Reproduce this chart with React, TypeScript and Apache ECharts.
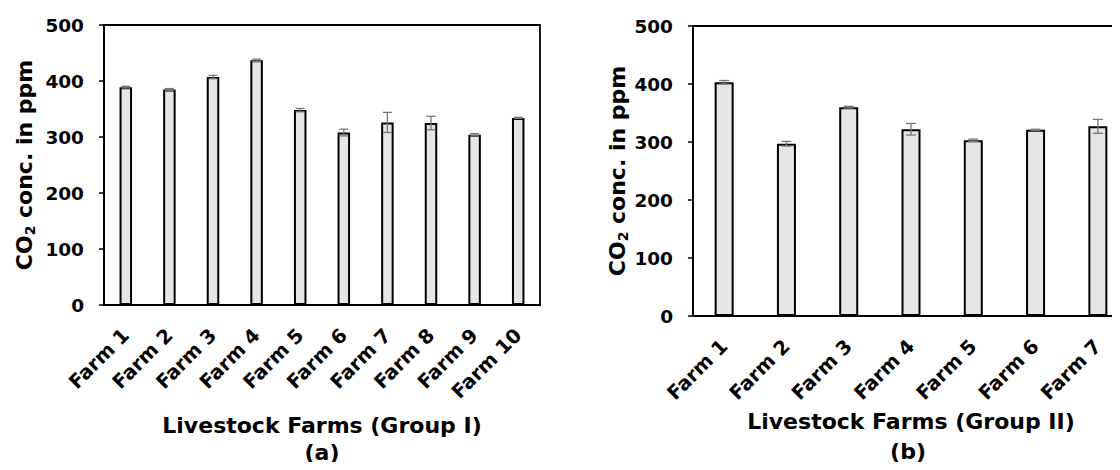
import React, { useEffect, useRef } from "react";
import * as echarts from "echarts";

const farmsA = ["Farm 1", "Farm 2", "Farm 3", "Farm 4", "Farm 5", "Farm 6", "Farm 7", "Farm 8", "Farm 9", "Farm 10"];
const meansA = [389, 385, 407, 437, 348, 308, 326, 325, 304, 334];
const errA = [1.5, 1.5, 3, 2, 3, 6, 18, 12, 2, 1];

const farmsB = ["Farm 1", "Farm 2", "Farm 3", "Farm 4", "Farm 5", "Farm 6", "Farm 7"];
const meansB = [403, 297, 360, 322, 303, 321, 327];
const errB = [3, 4, 1.5, 10, 2, 1, 12];

const yMin = 0;
const yMax = 500;
const yStep = 100;

const FONT = "'DejaVu Sans', 'Liberation Sans', Arial, sans-serif";

const gridA = { left: 104, top: 25, width: 436, height: 280 };
const gridB = { left: 693, top: 26, width: 436, height: 290 };

function errorRender(capWidth: number) {
  return (params: any, api: any) => {
    const x = api.value(0);
    const lo = api.value(1);
    const hi = api.value(2);
    const t = api.coord([x, hi]);
    const b = api.coord([x, lo]);
    const h = capWidth / 2;
    const style = { stroke: "#777", lineWidth: 1.3 };
    return {
      type: "group",
      children: [
        { type: "line", shape: { x1: t[0], y1: t[1], x2: b[0], y2: b[1] }, style },
        { type: "line", shape: { x1: t[0] - h, y1: t[1], x2: t[0] + h, y2: t[1] }, style },
        { type: "line", shape: { x1: b[0] - h, y1: b[1], x2: b[0] + h, y2: b[1] }, style },
      ],
    };
  };
}

const yName = "{m|CO}{s|2}{m| conc. in ppm}";
const yNameRich = {
  m: { fontSize: 22, fontWeight: "bold", fontFamily: FONT, color: "#000", lineHeight: 26 },
  s: { fontSize: 14, fontWeight: "bold", fontFamily: FONT, color: "#000", lineHeight: 14, verticalAlign: "bottom" },
};

function xAxisOpt(idx: number, cats: string[], name: string, gap: number) {
  return {
    type: "category",
    gridIndex: idx,
    data: cats,
    name,
    nameLocation: "middle",
    nameGap: gap,
    nameTextStyle: { fontSize: 22, fontWeight: "bold", fontFamily: FONT, color: "#000" },
    axisLine: { show: true, lineStyle: { color: "#000", width: 1.8 } },
    axisTick: { show: false },
    axisLabel: {
      interval: 0,
      rotate: 45,
      margin: 27,
      fontSize: 19.5,
      fontWeight: "bold",
      fontFamily: FONT,
      color: "#000",
    },
    splitLine: { show: false },
  };
}

function yAxisOpt(idx: number, gap: number) {
  return {
    type: "value",
    gridIndex: idx,
    min: yMin,
    max: yMax,
    interval: yStep,
    name: yName,
    nameLocation: "middle",
    nameGap: gap,
    nameTextStyle: { rich: yNameRich },
    axisLine: { show: true, lineStyle: { color: "#000", width: 1.8 } },
    axisTick: { show: true, inside: false, length: 5, lineStyle: { color: "#000", width: 1.5 } },
    axisLabel: { margin: 20, fontSize: 18.5, fontWeight: "bold", fontFamily: FONT, color: "#000" },
    splitLine: { show: false },
  };
}

export default function App() {
  const ref = useRef<HTMLDivElement>(null);
  useEffect(() => {
    if (!ref.current) return;
    const chart = echarts.init(ref.current, undefined, { renderer: "svg" });
    const option: any = {
      animation: false,
      backgroundColor: "#fff",
      grid: [
        { ...gridA, show: true, borderColor: "#000", borderWidth: 1.8 },
        { ...gridB, show: true, borderColor: "#000", borderWidth: 1.8 },
      ],
      xAxis: [
        xAxisOpt(0, farmsA, "Livestock Farms (Group I)", 109),
        xAxisOpt(1, farmsB, "Livestock Farms (Group II)", 90),
      ],
      yAxis: [yAxisOpt(0, 67), yAxisOpt(1, 62)],
      graphic: [
        {
          type: "text",
          x: gridA.left + gridA.width / 2,
          y: 452,
          style: { text: "(a)", align: "center", verticalAlign: "middle", font: `bold 22px ${FONT}`, fill: "#000" },
        },
        {
          type: "text",
          x: gridB.left + gridB.width / 2 - 3,
          y: 451,
          style: { text: "(b)", align: "center", verticalAlign: "middle", font: `bold 22px ${FONT}`, fill: "#000" },
        },
      ],
      series: [
        {
          type: "bar",
          xAxisIndex: 0,
          yAxisIndex: 0,
          data: meansA,
          barWidth: 12.5,
          itemStyle: { color: "#e6e6e6", borderColor: "#000", borderWidth: 2 },
          z: 2,
        },
        {
          type: "custom",
          xAxisIndex: 0,
          yAxisIndex: 0,
          data: meansA.map((m, i) => [i, m - errA[i], m + errA[i]]),
          encode: { x: 0, y: [1, 2] },
          renderItem: errorRender(9),
          z: 3,
        },
        {
          type: "bar",
          xAxisIndex: 1,
          yAxisIndex: 1,
          data: meansB,
          barWidth: 19,
          itemStyle: { color: "#e6e6e6", borderColor: "#000", borderWidth: 2 },
          z: 2,
        },
        {
          type: "custom",
          xAxisIndex: 1,
          yAxisIndex: 1,
          data: meansB.map((m, i) => [i, m - errB[i], m + errB[i]]),
          encode: { x: 0, y: [1, 2] },
          renderItem: errorRender(10),
          z: 3,
        },
      ],
    };
    chart.setOption(option);
    return () => chart.dispose();
  }, []);
  return (
    <div style={{ margin: -8, width: 1120, height: 470, overflow: "hidden", background: "#fff" }}>
      <div ref={ref} style={{ width: 1140, height: 470 }} />
    </div>
  );
}
